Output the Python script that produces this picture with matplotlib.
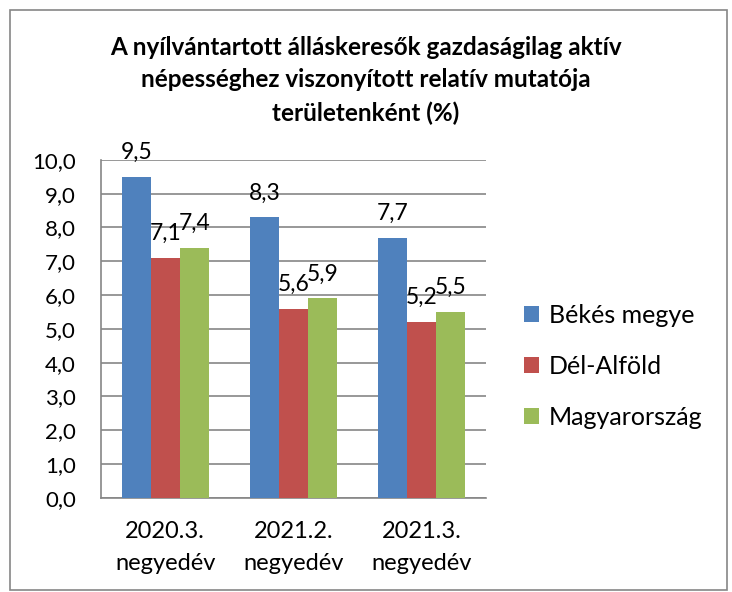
import matplotlib.pyplot as plt
import numpy as np
from matplotlib.patches import Rectangle

categories = ["2020.3.\nnegyedév", "2021.2.\nnegyedév", "2021.3.\nnegyedév"]
series_names = ["Békés megye", "Dél-Alföld", "Magyarország"]
bekes = [9.5, 8.3, 7.7]
del_alfold = [7.1, 5.6, 5.2]
magyar = [7.4, 5.9, 5.5]
colors = ["#4F81BD", "#C0504D", "#9BBB59"]
title = ("A nyílvántartott álláskeresők gazdaságilag aktív\n"
         "népességhez viszonyított relatív mutatója\n"
         "területenként (%)")

plt.rcParams['font.family'] = ['Lato', 'DejaVu Sans']

fig = plt.figure(figsize=(7.32, 5.92), dpi=100)
ax = fig.add_axes([0.138, 0.159, 0.526, 0.571])

x = np.arange(len(categories))
width = 0.226
for i, (vals, name) in enumerate(zip([bekes, del_alfold, magyar], series_names)):
    pos = x + (i - 1) * width
    bars = ax.bar(pos, vals, width, color=colors[i], label=name, zorder=3)
    for b, v in zip(bars, vals):
        ax.annotate(f"{v:.1f}".replace(".", ","),
                    (b.get_x() + b.get_width() / 2, v),
                    xytext=(0, 10), textcoords="offset points",
                    ha="center", va="bottom", fontsize=16.5, zorder=4)

ax.set_ylim(0, 10)
ax.set_xlim(-0.5, 2.5)
ax.set_yticks(np.arange(0, 11, 1))
ax.set_yticklabels([f"{t:.1f}".replace(".", ",") for t in np.arange(0, 11, 1)])
ax.set_xticks(x)
ax.set_xticklabels(categories, linespacing=1.6)
ax.tick_params(axis="y", labelsize=16, length=0, pad=18)
ax.tick_params(axis="x", labelsize=17, length=0, pad=17)
ax.yaxis.grid(True, color="#868686", linewidth=1.2, zorder=0)
for s in ["top", "right"]:
    ax.spines[s].set_visible(False)
for s in ["left", "bottom"]:
    ax.spines[s].set_color("#868686")
    ax.spines[s].set_linewidth(1.2)

fig.text(0.5, 0.94, title, ha="center", va="top", fontsize=17.5,
         fontweight="bold", linespacing=1.52)

ax.legend(loc="center left", bbox_to_anchor=(1.04, 0.388), frameon=False,
          fontsize=18, handlelength=0.6, handleheight=0.6,
          labelspacing=1.12, handletextpad=0.4)

fig.add_artist(Rectangle((0.014, 0.003), 0.979, 0.98, transform=fig.transFigure,
                         fill=False, edgecolor="#868686", linewidth=1.2))

fig.savefig("out.png", dpi=100)
